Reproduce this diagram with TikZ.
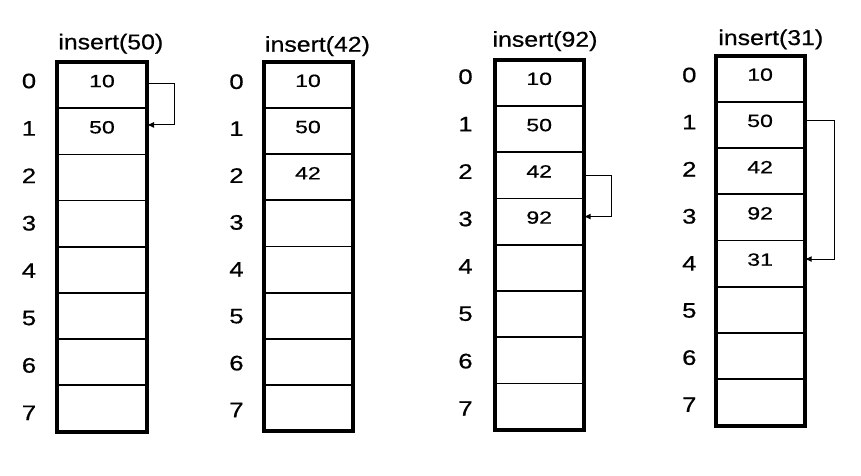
\documentclass[tikz,border=0pt]{standalone}
\usepackage{fontspec}
\setmainfont[FakeBold=0.6]{Liberation Sans}
\usetikzlibrary{arrows.meta}
\newcommand\sx[2]{\scalebox{#1}[1]{#2}}
\begin{document}
\begin{tikzpicture}[x=1pt,y=-1pt,
  cell/.style={draw=none,inner sep=0pt,outer sep=0pt},
  idx/.style={inner sep=0pt,font=\fontsize{21}{24}\selectfont},
  val/.style={inner sep=0pt,font=\fontsize{17.7}{20}\selectfont},
  ttl/.style={inner sep=0pt,anchor=base,font=\fontsize{21.4}{24}\selectfont},
  divider/.style={line width=1.7pt},
  border/.style={line width=4pt},
  link/.style={line width=1pt,-{Latex[length=7pt,width=6pt]}}]
\useasboundingbox (0,0) rectangle (861,475);
\foreach \id/\L/\R/\T/\B/\ix/\iy/\isp/\tx/\ty/\ttlnum in {
  1/57/147/62/431.5/29/81/47.4/110.8/49.3/50,
  2/263.5/352.5/61.7/431.3/236.5/81.7/46.9/317.5/51.7/42,
  3/494.7/583.7/59.7/429.7/465.5/76.7/47.4/545/46.7/92,
  4/715.5/804.7/55.5/425.5/689.3/75/47.1/770.8/45/31}{
  \pgfmathsetmacro\h{(\B-\T)/8}
  \pgfmathsetmacro\w{\R-\L}
  \node[ttl] (t\id title) at (\tx,\ty) {\sx{1.16}{insert(\ttlnum)}};
  \foreach \r in {0,...,7}{
    \node[cell,minimum width=\w pt,minimum height=\h pt] (t\id c\r) at ({(\L+\R)/2},{\T+(\r+0.5)*\h}) {};
    \node[idx] (t\id i\r) at (\ix,{\iy+\r*\isp}) {\sx{1.22}{\r}};
  }
  \foreach \r in {1,...,7}{
    \draw[divider] (t\id c\r.north west) -- (t\id c\r.north east);
  }
  \draw[border] (t\id c0.north west) rectangle (t\id c7.south east);
}
% values
\foreach \id/\list in {1/{10,50},2/{10,50,42},3/{10,50,42,92},4/{10,50,42,92,31}}{
  \foreach \v [count=\k from 0] in \list{
    \node[val] (t\id v\k) at ([yshift=4pt]t\id c\k.center) {\sx{1.3}{\v}};
  }
}
% probing links
\draw[link] ([yshift=2pt]t1c0.east) -- ++(27.3,0) |- ([yshift=6.4pt]t1c1.east);
\draw[link] (t3c2.east) -- ++(28,0) |- ([yshift=5pt]t3c3.east);
\draw[link] ([yshift=4.2pt]t4c1.east) -- ++(29.6,0) |- ([yshift=4.6pt]t4c4.east);
\end{tikzpicture}
\end{document}
